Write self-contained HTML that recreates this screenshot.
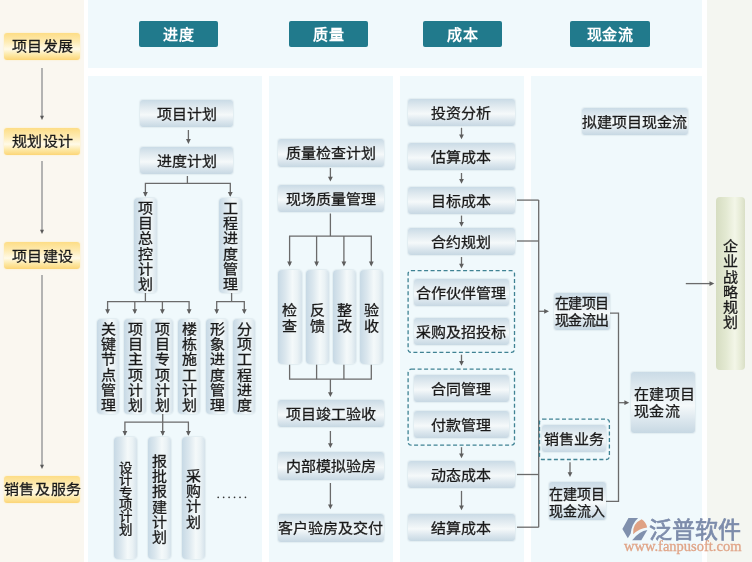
<!DOCTYPE html><html lang="zh-CN"><head><meta charset="utf-8"><style>
*{margin:0;padding:0;box-sizing:border-box}
html,body{width:752px;height:562px;overflow:hidden;background:#fff}
body{position:relative;font-family:"Liberation Sans",sans-serif;color:#1a1a1a}
.bx,.vb,.yb,.tx{-webkit-text-stroke:0.3px #1a1a1a}
.p{position:absolute}
.hb{position:absolute;background:#217a8c;border-radius:2px;color:#fff;font-weight:bold;font-size:15px;line-height:27.5px;text-align:center;height:26px;letter-spacing:0.7px;text-indent:0.7px}
.yb{position:absolute;border-radius:3px;background:linear-gradient(to bottom,#fddd86 0%,#feebb2 32%,#fffae8 60%,#fde9a8 80%,#fcd576 100%);box-shadow:0 0 1px 1px #fbf3df;font-size:15px;text-align:center;color:#1a1a1a}
.bx{position:absolute;border-radius:3px;background:linear-gradient(to bottom,#cadbe6 0%,#dfe9ef 25%,#f5f9fa 55%,#dce7ee 78%,#c7d8e3 100%);box-shadow:0 0 1px 1px #e2edf1;font-size:15px;text-align:center;color:#1a1a1a;white-space:nowrap}
.bx>span,.yb>span{display:inline-block;transform:scaleY(0.93)}
.yb{display:flex;justify-content:center;white-space:nowrap}
.yb>span{letter-spacing:0.6px;text-indent:0.6px;position:relative;top:0.3px;left:0.5px;flex:none}
.vb{position:absolute;border-radius:4px;background:linear-gradient(to right,#c7d9e5 0%,#dbe7ee 30%,#f4f9fa 60%,#eaf2f5 80%,#d6e3eb 100%);box-shadow:0 0 1px 1px #e2edf1;font-size:15px;text-align:center;color:#1a1a1a;display:flex;align-items:center;justify-content:center;padding-top:3px}
.vb span{display:block;width:15px;line-height:15px;word-break:break-all;transform:scaleY(0.9375)}
.db{position:absolute;border:1.3px dashed #3c8a9b;border-radius:5px}
</style></head><body><div id="w" style="position:absolute;left:0;top:0;width:752px;height:562px;will-change:transform">
<div class="p" style="left:0px;top:0px;width:84px;height:562px;background:#faf7f0"></div>
<div class="p" style="left:88px;top:0px;width:614px;height:68px;background:#f0f9fc"></div>
<div class="p" style="left:88px;top:76px;width:174px;height:486px;background:#f0f9fc"></div>
<div class="p" style="left:269px;top:76px;width:124px;height:486px;background:#f0f9fc"></div>
<div class="p" style="left:400px;top:76px;width:124px;height:486px;background:#f0f9fc"></div>
<div class="p" style="left:531px;top:76px;width:171px;height:486px;background:#f0f9fc"></div>
<div class="p" style="left:707px;top:0px;width:45px;height:562px;background:#f4f6f1"></div>
<div class="hb" style="left:139px;top:21px;width:79px">进度</div>
<div class="hb" style="left:289px;top:21px;width:79px">质量</div>
<div class="hb" style="left:423px;top:21px;width:79px">成本</div>
<div class="hb" style="left:570px;top:21px;width:80px">现金流</div>
<div class="yb" style="left:4px;top:33px;width:76px;height:26.5px;line-height:26.5px"><span>项目发展</span></div>
<div class="yb" style="left:4px;top:128px;width:76px;height:26.5px;line-height:26.5px"><span>规划设计</span></div>
<div class="yb" style="left:4px;top:242px;width:76px;height:27px;line-height:27px"><span>项目建设</span></div>
<div class="yb" style="left:4px;top:476px;width:76px;height:26.5px;line-height:26.5px"><span>销售及服务</span></div>
<div class="bx" style="left:140px;top:100px;width:93px;height:27px;line-height:27px;font-size:15px;"><span>项目计划</span></div>
<div class="bx" style="left:140px;top:147px;width:93px;height:27px;line-height:27px;font-size:15px;"><span>进度计划</span></div>
<div class="vb" style="left:134px;top:198px;width:23px;height:95px;font-size:15px;"><span style="line-height:16.2px;width:15px">项目总控计划</span></div>
<div class="vb" style="left:219px;top:198px;width:23px;height:95px;font-size:15px;"><span style="line-height:16.2px;width:15px">工程进度管理</span></div>
<div class="vb" style="left:97px;top:319px;width:22px;height:95px;font-size:15px;"><span style="line-height:16.2px;width:15px">关键节点管理</span></div>
<div class="vb" style="left:124px;top:319px;width:22px;height:95px;font-size:15px;"><span style="line-height:16.2px;width:15px">项目主项计划</span></div>
<div class="vb" style="left:151px;top:319px;width:22px;height:95px;font-size:15px;"><span style="line-height:16.2px;width:15px">项目专项计划</span></div>
<div class="vb" style="left:178px;top:319px;width:22px;height:95px;font-size:15px;"><span style="line-height:16.2px;width:15px">楼栋施工计划</span></div>
<div class="vb" style="left:206px;top:319px;width:22px;height:95px;font-size:15px;"><span style="line-height:16.2px;width:15px">形象进度管理</span></div>
<div class="vb" style="left:233px;top:319px;width:22px;height:95px;font-size:15px;"><span style="line-height:16.2px;width:15px">分项工程进度</span></div>
<div class="vb" style="left:114px;top:437px;width:23px;height:122px;font-size:13.5px;padding-top:1px"><span style="line-height:13.3px;width:13.5px">设计专项计划</span></div>
<div class="vb" style="left:148px;top:437px;width:23px;height:122px;font-size:15px;"><span style="line-height:16.2px;width:15px">报批报建计划</span></div>
<div class="vb" style="left:182px;top:437px;width:23px;height:122px;font-size:15px;"><span style="line-height:16.2px;width:15px">采购计划</span></div>
<div class="bx" style="left:277.5px;top:139px;width:106px;height:27.5px;line-height:27.5px;font-size:15px;"><span>质量检查计划</span></div>
<div class="bx" style="left:277.5px;top:184.5px;width:106px;height:27.5px;line-height:27.5px;font-size:15px;"><span>现场质量管理</span></div>
<div class="vb" style="left:278px;top:269.5px;width:23.5px;height:94px;font-size:15px;padding-top:5px"><span style="line-height:16.8px;width:15px">检查</span></div>
<div class="vb" style="left:305.5px;top:269.5px;width:23.5px;height:94px;font-size:15px;padding-top:5px"><span style="line-height:16.8px;width:15px">反馈</span></div>
<div class="vb" style="left:332.5px;top:269.5px;width:23.5px;height:94px;font-size:15px;padding-top:5px"><span style="line-height:16.8px;width:15px">整改</span></div>
<div class="vb" style="left:359.5px;top:269.5px;width:23.5px;height:94px;font-size:15px;padding-top:5px"><span style="line-height:16.8px;width:15px">验收</span></div>
<div class="bx" style="left:277.5px;top:399.5px;width:106px;height:27.5px;line-height:27.5px;font-size:15px;"><span>项目竣工验收</span></div>
<div class="bx" style="left:277.5px;top:452px;width:106px;height:27.5px;line-height:27.5px;font-size:15px;"><span>内部模拟验房</span></div>
<div class="bx" style="left:277.5px;top:514px;width:106px;height:27.5px;line-height:27.5px;font-size:15px;"><span>客户验房及交付</span></div>
<div class="bx" style="left:408px;top:98.5px;width:106.5px;height:27.2px;line-height:27.2px;font-size:15px;"><span>投资分析</span></div>
<div class="bx" style="left:408px;top:142.7px;width:106.5px;height:27.2px;line-height:27.2px;font-size:15px;"><span>估算成本</span></div>
<div class="bx" style="left:408px;top:187px;width:106.5px;height:27.2px;line-height:27.2px;font-size:15px;"><span>目标成本</span></div>
<div class="bx" style="left:408px;top:228px;width:106.5px;height:27.2px;line-height:27.2px;font-size:15px;"><span>合约规划</span></div>
<div class="bx" style="left:408px;top:460.6px;width:106.5px;height:27.2px;line-height:27.2px;font-size:15px;"><span>动态成本</span></div>
<div class="bx" style="left:408px;top:513.8px;width:106.5px;height:27.2px;line-height:27.2px;font-size:15px;"><span>结算成本</span></div>
<div class="bx" style="left:414px;top:278.7px;width:94.5px;height:27px;line-height:27px;font-size:15px;"><span>合作伙伴管理</span></div>
<div class="bx" style="left:414px;top:318px;width:94.5px;height:27px;line-height:27px;font-size:15px;"><span>采购及招投标</span></div>
<div class="bx" style="left:414px;top:375.3px;width:94.5px;height:27.2px;line-height:27.2px;font-size:15px;"><span>合同管理</span></div>
<div class="bx" style="left:414px;top:411px;width:94.5px;height:27.3px;line-height:27.3px;font-size:15px;"><span>付款管理</span></div>
<div class="bx" style="left:581.5px;top:107.5px;width:106px;height:27.3px;line-height:27.3px;font-size:15px;"><span>拟建项目现金流</span></div>
<div class="bx" style="left:554px;top:292.5px;width:56px;height:37.2px"></div>
<div class="p tx" style="left:554.5px;top:294.5px;font-size:14px;letter-spacing:-0.4px;line-height:17px;white-space:nowrap;transform:scaleY(1);transform-origin:0 0">在建项目<br>现金流出</div>
<div class="bx" style="left:631px;top:372px;width:64px;height:60.7px"></div>
<div class="p tx" style="left:634px;top:385.3px;font-size:15px;letter-spacing:0.3px;line-height:19px;white-space:nowrap;transform:scaleY(0.91);transform-origin:0 0">在建项目<br>现金流</div>
<div class="bx" style="left:548.7px;top:481.6px;width:57.3px;height:38.6px"></div>
<div class="p tx" style="left:549px;top:485.5px;font-size:14px;letter-spacing:0px;line-height:17px;white-space:nowrap;transform:scaleY(1);transform-origin:0 0">在建项目<br>现金流入</div>
<div class="bx" style="left:542.4px;top:424.8px;width:63.6px;height:27.2px;line-height:27.2px;font-size:15px;"><span>销售业务</span></div>
<div class="vb" style="left:716px;top:197px;width:29px;height:173px;background:linear-gradient(to right,#d6ddc1 0%,#e3e9d2 35%,#f3f6e8 65%,#e6ebd6 85%,#d9dfc6 100%);box-shadow:none;padding-top:3px"><span style="line-height:16.3px">企业战略规划</span></div>
<svg class="p" style="left:0;top:0" width="752" height="562" viewBox="0 0 752 562"><line x1="42" y1="68" x2="42" y2="117" stroke="#ababab" stroke-width="1.8"/><polygon points="40,115.8 44,115.8 42,120" fill="#5a5a5a"/><line x1="42" y1="161" x2="42" y2="231" stroke="#ababab" stroke-width="1.8"/><polygon points="40,229.8 44,229.8 42,234" fill="#5a5a5a"/><line x1="42" y1="275" x2="42" y2="466" stroke="#ababab" stroke-width="1.8"/><polygon points="40,464.8 44,464.8 42,469" fill="#5a5a5a"/><line x1="188.4" y1="130" x2="188.4" y2="140.9" stroke="#6b6b6b" stroke-width="1.3"/><polygon points="186.0,139.1 190.8,139.1 188.4,143.9" fill="#5e5e5e"/><line x1="187.4" y1="176" x2="187.4" y2="183.4" stroke="#6b6b6b" stroke-width="1.3"/><polyline fill="none" stroke="#6b6b6b" stroke-width="1.3" points="145.4,196 145.4,183.4 230.3,183.4 230.3,196"/><polygon points="143.0,192.0 147.8,192.0 145.4,196.8" fill="#5e5e5e"/><polygon points="227.9,192.0 232.70000000000002,192.0 230.3,196.8" fill="#5e5e5e"/><line x1="145.4" y1="293" x2="145.4" y2="301.7" stroke="#6b6b6b" stroke-width="1.3"/><polyline fill="none" stroke="#6b6b6b" stroke-width="1.3" points="107.6,313 107.6,301.7 189.1,301.7 189.1,313"/><line x1="134.8" y1="301.7" x2="134.8" y2="313" stroke="#6b6b6b" stroke-width="1.3"/><line x1="162.4" y1="301.7" x2="162.4" y2="313" stroke="#6b6b6b" stroke-width="1.3"/><polygon points="105.19999999999999,309.2 110.0,309.2 107.6,314" fill="#5e5e5e"/><polygon points="132.4,309.2 137.20000000000002,309.2 134.8,314" fill="#5e5e5e"/><polygon points="160.0,309.2 164.8,309.2 162.4,314" fill="#5e5e5e"/><polygon points="186.7,309.2 191.5,309.2 189.1,314" fill="#5e5e5e"/><line x1="231.6" y1="293" x2="231.6" y2="301.7" stroke="#6b6b6b" stroke-width="1.3"/><polyline fill="none" stroke="#6b6b6b" stroke-width="1.3" points="216.7,313 216.7,301.7 244.3,301.7 244.3,313"/><polygon points="214.29999999999998,309.2 219.1,309.2 216.7,314" fill="#5e5e5e"/><polygon points="241.9,309.2 246.70000000000002,309.2 244.3,314" fill="#5e5e5e"/><line x1="162.7" y1="414" x2="162.7" y2="422.2" stroke="#6b6b6b" stroke-width="1.3"/><polyline fill="none" stroke="#6b6b6b" stroke-width="1.3" points="124.9,435 124.9,422.2 188.4,422.2 188.4,435"/><line x1="162.7" y1="422.2" x2="162.7" y2="435" stroke="#6b6b6b" stroke-width="1.3"/><polygon points="122.5,430.9 127.30000000000001,430.9 124.9,435.7" fill="#5e5e5e"/><polygon points="160.29999999999998,430.9 165.1,430.9 162.7,435.7" fill="#5e5e5e"/><polygon points="186.0,430.9 190.8,430.9 188.4,435.7" fill="#5e5e5e"/><circle cx="218.2" cy="497.3" r="0.85" fill="#333"/><circle cx="223.64999999999998" cy="497.3" r="0.85" fill="#333"/><circle cx="229.1" cy="497.3" r="0.85" fill="#333"/><circle cx="234.54999999999998" cy="497.3" r="0.85" fill="#333"/><circle cx="240.0" cy="497.3" r="0.85" fill="#333"/><circle cx="245.45" cy="497.3" r="0.85" fill="#333"/><line x1="330.4" y1="168" x2="330.4" y2="178.6" stroke="#6b6b6b" stroke-width="1.3"/><polygon points="328.0,176.79999999999998 332.79999999999995,176.79999999999998 330.4,181.6" fill="#5e5e5e"/><line x1="330.4" y1="213.5" x2="330.4" y2="236.1" stroke="#6b6b6b" stroke-width="1.3"/><polyline fill="none" stroke="#6b6b6b" stroke-width="1.3" points="289.6,265 289.6,236.1 371.3,236.1 371.3,265"/><line x1="316.6" y1="236.1" x2="316.6" y2="265" stroke="#6b6b6b" stroke-width="1.3"/><line x1="343.9" y1="236.1" x2="343.9" y2="265" stroke="#6b6b6b" stroke-width="1.3"/><polygon points="287.20000000000005,261.59999999999997 292.0,261.59999999999997 289.6,266.4" fill="#5e5e5e"/><polygon points="314.20000000000005,261.59999999999997 319.0,261.59999999999997 316.6,266.4" fill="#5e5e5e"/><polygon points="341.5,261.59999999999997 346.29999999999995,261.59999999999997 343.9,266.4" fill="#5e5e5e"/><polygon points="368.90000000000003,261.59999999999997 373.7,261.59999999999997 371.3,266.4" fill="#5e5e5e"/><polyline fill="none" stroke="#6b6b6b" stroke-width="1.3" points="289.6,364.7 289.6,379.2 371.3,379.2 371.3,364.7"/><line x1="316.6" y1="364.7" x2="316.6" y2="379.2" stroke="#6b6b6b" stroke-width="1.3"/><line x1="343.9" y1="364.7" x2="343.9" y2="379.2" stroke="#6b6b6b" stroke-width="1.3"/><line x1="330.4" y1="379.2" x2="330.4" y2="394" stroke="#6b6b6b" stroke-width="1.3"/><polygon points="328.0,392.2 332.79999999999995,392.2 330.4,397" fill="#5e5e5e"/><line x1="330.4" y1="431" x2="330.4" y2="445" stroke="#6b6b6b" stroke-width="1.3"/><polygon points="328.0,443.2 332.79999999999995,443.2 330.4,448" fill="#5e5e5e"/><line x1="330.4" y1="483" x2="330.4" y2="506.2" stroke="#6b6b6b" stroke-width="1.3"/><polygon points="328.0,504.4 332.79999999999995,504.4 330.4,509.2" fill="#5e5e5e"/><line x1="461.5" y1="127.8" x2="461.5" y2="136.3" stroke="#6b6b6b" stroke-width="1.3"/><polygon points="459.1,134.5 463.9,134.5 461.5,139.3" fill="#5e5e5e"/><line x1="461.5" y1="173" x2="461.5" y2="180.7" stroke="#6b6b6b" stroke-width="1.3"/><polygon points="459.1,178.89999999999998 463.9,178.89999999999998 461.5,183.7" fill="#5e5e5e"/><line x1="461.5" y1="215.6" x2="461.5" y2="223.7" stroke="#6b6b6b" stroke-width="1.3"/><polygon points="459.1,221.89999999999998 463.9,221.89999999999998 461.5,226.7" fill="#5e5e5e"/><line x1="461.5" y1="257" x2="461.5" y2="265.6" stroke="#6b6b6b" stroke-width="1.3"/><polygon points="459.1,263.8 463.9,263.8 461.5,268.6" fill="#5e5e5e"/><line x1="461.5" y1="354.7" x2="461.5" y2="362.7" stroke="#6b6b6b" stroke-width="1.3"/><polygon points="459.1,360.9 463.9,360.9 461.5,365.7" fill="#5e5e5e"/><line x1="461.5" y1="447.2" x2="461.5" y2="455.3" stroke="#6b6b6b" stroke-width="1.3"/><polygon points="459.1,453.5 463.9,453.5 461.5,458.3" fill="#5e5e5e"/><line x1="461.5" y1="490.9" x2="461.5" y2="507.2" stroke="#6b6b6b" stroke-width="1.3"/><polygon points="459.1,505.4 463.9,505.4 461.5,510.2" fill="#5e5e5e"/><line x1="517" y1="200.1" x2="538.7" y2="200.1" stroke="#6b6b6b" stroke-width="1.3"/><line x1="517" y1="241" x2="538.7" y2="241" stroke="#6b6b6b" stroke-width="1.3"/><line x1="517" y1="474.5" x2="538.7" y2="474.5" stroke="#6b6b6b" stroke-width="1.3"/><line x1="517" y1="527.2" x2="538.7" y2="527.2" stroke="#6b6b6b" stroke-width="1.3"/><line x1="538.7" y1="200.1" x2="538.7" y2="527.2" stroke="#6b6b6b" stroke-width="1.3"/><line x1="538.7" y1="311.3" x2="546" y2="311.3" stroke="#6b6b6b" stroke-width="1.3"/><polygon points="544.2,308.90000000000003 544.2,313.7 549,311.3" fill="#5e5e5e"/><polyline fill="none" stroke="#6b6b6b" stroke-width="1.3" points="610,313.2 618.5,313.2 618.5,501.4 606,501.4"/><line x1="618.5" y1="402.7" x2="626" y2="402.7" stroke="#6b6b6b" stroke-width="1.3"/><polygon points="624.4000000000001,400.3 624.4000000000001,405.09999999999997 629.2,402.7" fill="#5e5e5e"/><line x1="570" y1="462.3" x2="570" y2="474" stroke="#6b6b6b" stroke-width="1.3"/><polygon points="567.6,472.2 572.4,472.2 570,477" fill="#5e5e5e"/><line x1="685.8" y1="283.6" x2="710" y2="283.6" stroke="#6b6b6b" stroke-width="1.3"/><polygon points="709.5,281.20000000000005 709.5,286.0 714.3,283.6" fill="#5e5e5e"/></svg>
<svg class="p" style="left:0;top:0" width="752" height="562" viewBox="0 0 752 562"><rect x="408.1" y="270.6" width="106.39999999999998" height="81.79999999999995" rx="3" fill="none" stroke="#3f8293" stroke-width="1.3" stroke-dasharray="4 2.5"/><rect x="408.1" y="369.2" width="106.39999999999998" height="76.0" rx="3" fill="none" stroke="#3f8293" stroke-width="1.3" stroke-dasharray="4 2.5"/><rect x="539.5" y="419.1" width="69.89999999999998" height="40.39999999999998" rx="3" fill="none" stroke="#3f8293" stroke-width="1.3" stroke-dasharray="4 2.5"/></svg>
<svg class="p" style="left:615px;top:512px" width="45" height="36" viewBox="0 0 702 562">
<path d="M210,95 L360,95 Q262,185 245,335 L200,410 L115,265 Z" fill="#8090ad"/>
<path d="M283,348 Q265,185 415,115 Q485,160 502,242 Q385,252 283,348 Z" fill="#dfa183"/>
<path d="M505,282 L410,440 L268,440 Q380,300 505,282 Z" fill="#8090ad"/>
</svg>
<div class="p" style="left:649px;top:516px;font-size:23px;line-height:28px;color:#7d8cab;-webkit-text-stroke:0.7px #7d8cab;letter-spacing:0px">泛普软件</div>
<div class="p" id="url" style="left:624px;top:539px;font-family:'Liberation Serif',serif;font-size:14.5px;line-height:14px;color:#e0a487;-webkit-text-stroke:0.3px #e0a487;letter-spacing:0px">www.fanpusoft.com</div>
</div></body></html>
